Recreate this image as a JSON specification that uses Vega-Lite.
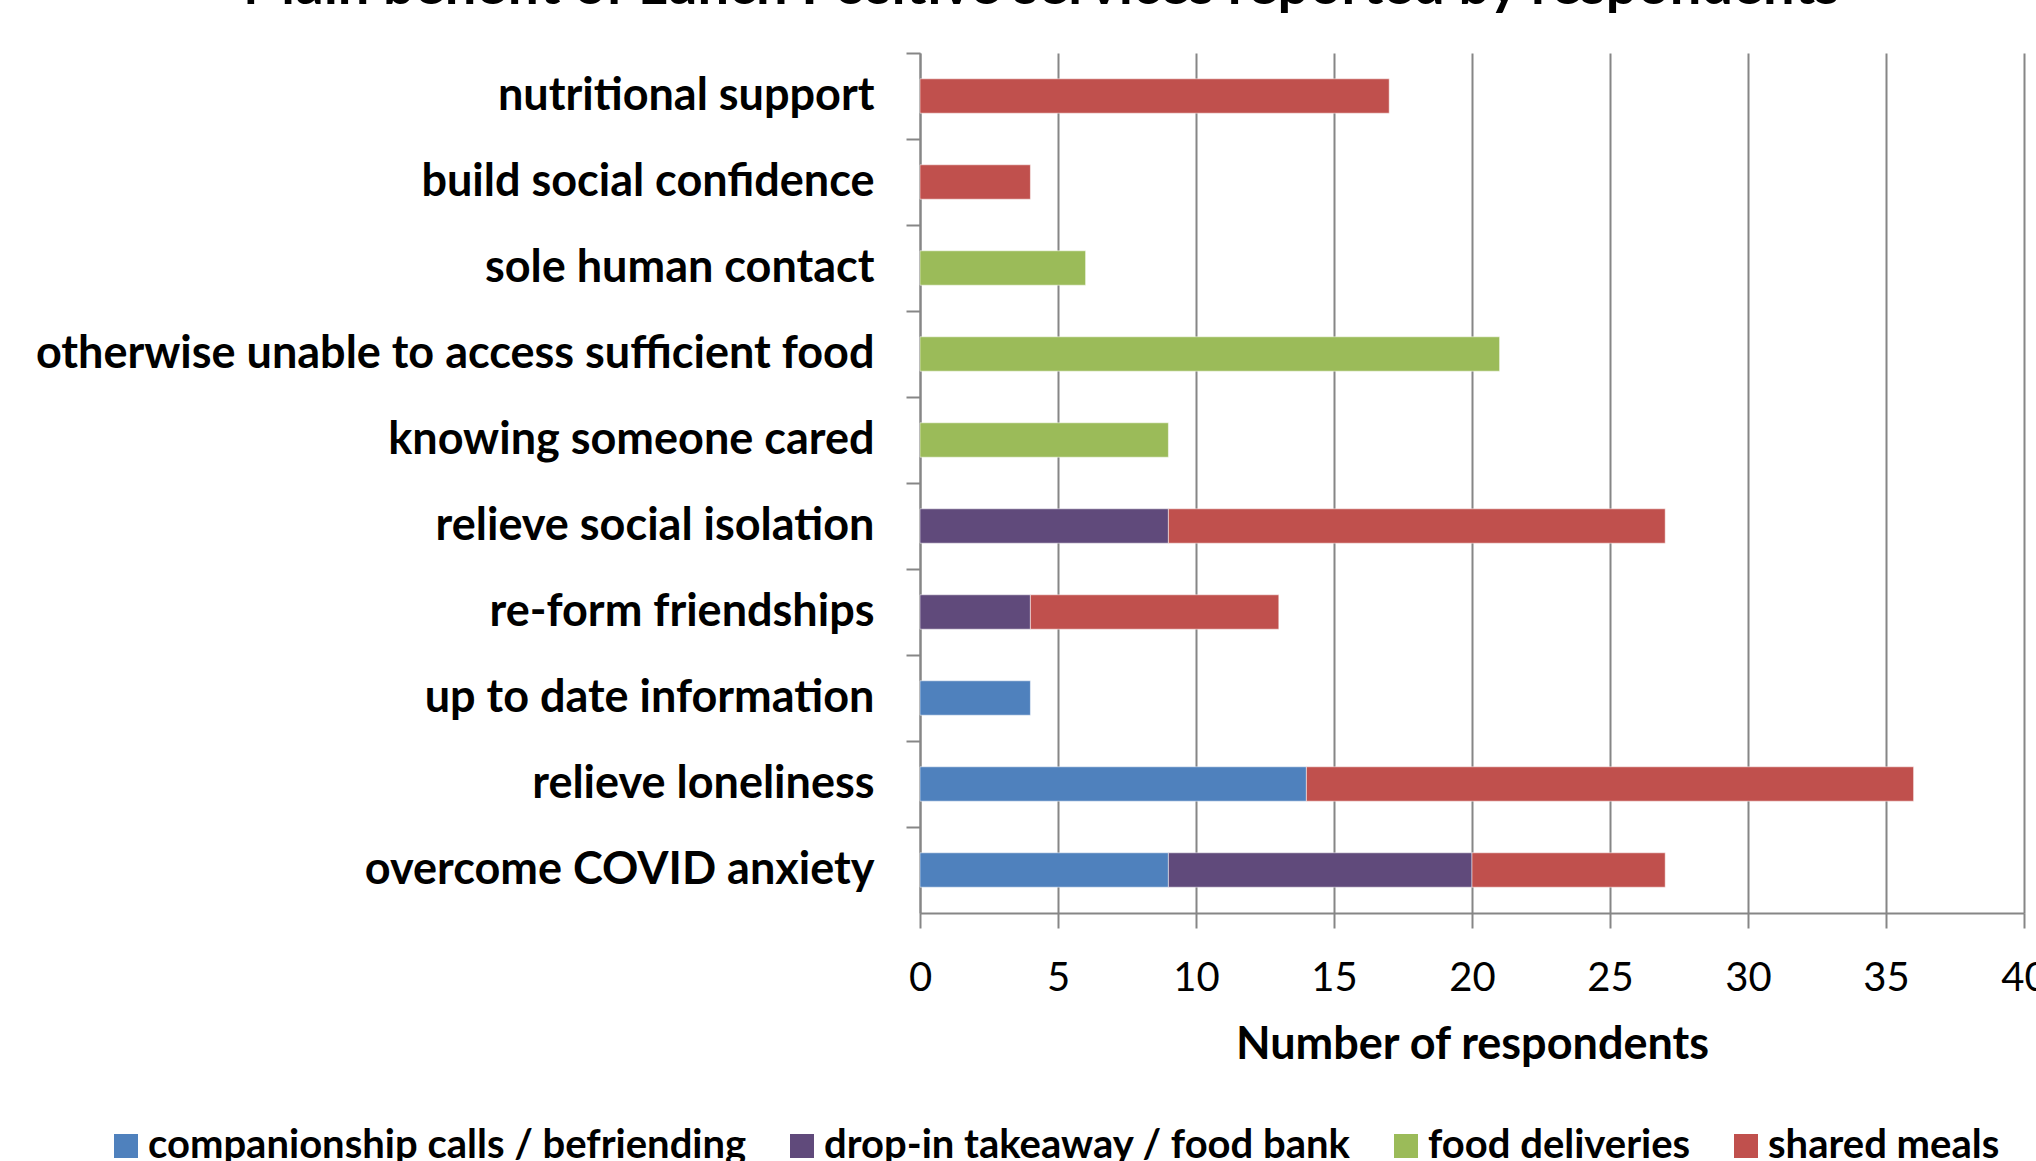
{
  "$schema": "https://vega.github.io/schema/vega-lite/v6.json",
  "autosize": {"type": "none"},
  "width": 1104,
  "height": 860,
  "padding": {"left": 920, "top": 53, "right": 12, "bottom": 248},
  "background": "white",
  "config": {
    "view": {"stroke": null},
    "font": "Lato"
  },
  "title": {
    "text": "Main benefit of Lunch Positive services reported by respondents",
    "font": "Lato",
    "fontSize": 56,
    "fontWeight": "bold",
    "color": "black",
    "anchor": "middle",
    "frame": "bounds",
    "offset": 36
  },
  "data": {
    "values": [
      {"benefit": "nutritional support", "service": "shared meals", "count": 17},
      {"benefit": "build social confidence", "service": "shared meals", "count": 4},
      {"benefit": "sole human contact", "service": "food deliveries", "count": 6},
      {"benefit": "otherwise unable to access sufficient food", "service": "food deliveries", "count": 21},
      {"benefit": "knowing someone cared", "service": "food deliveries", "count": 9},
      {"benefit": "relieve social isolation", "service": "drop-in takeaway / food bank", "count": 9},
      {"benefit": "relieve social isolation", "service": "shared meals", "count": 18},
      {"benefit": "re-form friendships", "service": "drop-in takeaway / food bank", "count": 4},
      {"benefit": "re-form friendships", "service": "shared meals", "count": 9},
      {"benefit": "up to date information", "service": "companionship calls / befriending", "count": 4},
      {"benefit": "relieve loneliness", "service": "companionship calls / befriending", "count": 14},
      {"benefit": "relieve loneliness", "service": "shared meals", "count": 22},
      {"benefit": "overcome COVID anxiety", "service": "companionship calls / befriending", "count": 9},
      {"benefit": "overcome COVID anxiety", "service": "drop-in takeaway / food bank", "count": 11},
      {"benefit": "overcome COVID anxiety", "service": "shared meals", "count": 7}
    ]
  },
  "mark": {"type": "bar", "height": {"band": 0.4}, "stroke": "white", "strokeOpacity": 0.5, "strokeWidth": 1},
  "encoding": {
    "y": {
      "field": "benefit",
      "type": "nominal",
      "sort": ["nutritional support", "build social confidence", "sole human contact", "otherwise unable to access sufficient food", "knowing someone cared", "relieve social isolation", "re-form friendships", "up to date information", "relieve loneliness", "overcome COVID anxiety"],
      "scale": {"paddingInner": 0, "paddingOuter": 0},
      "axis": {
        "title": null,
        "bandPosition": 0,
        "tickSize": 14,
        "tickColor": "#868686",
        "tickWidth": 2,
        "domainColor": "#868686",
        "domainWidth": 2,
        "labelFontSize": 45,
        "labelFontWeight": "bold",
        "labelColor": "black",
        "labelPadding": 32,
        "labelLimit": 1200,
        "grid": false
      }
    },
    "x": {
      "field": "count",
      "type": "quantitative",
      "stack": "zero",
      "scale": {"domain": [0, 40]},
      "axis": {
        "title": "Number of respondents",
        "titleFontSize": 45,
        "titleFontWeight": "bold",
        "titleColor": "black",
        "titlePadding": 24,
        "values": [0, 5, 10, 15, 20, 25, 30, 35, 40],
        "tickSize": 15,
        "tickColor": "#868686",
        "tickWidth": 2,
        "domainColor": "#868686",
        "domainWidth": 2,
        "grid": true,
        "gridColor": "#868686",
        "gridWidth": 2,
        "labelFontSize": 40,
        "labelColor": "black",
        "labelPadding": 30,
        "labelFlush": false,
        "labelOverlap": false
      }
    },
    "color": {
      "field": "service",
      "type": "nominal",
      "scale": {
        "domain": ["companionship calls / befriending", "drop-in takeaway / food bank", "food deliveries", "shared meals"],
        "range": ["#4F81BD", "#604A7B", "#9BBB59", "#C0504D"]
      },
      "legend": {
        "title": null,
        "orient": "none",
        "direction": "horizontal",
        "legendX": -814,
        "legendY": 1073,
        "symbolType": "square",
        "symbolSize": 576,
        "symbolStrokeWidth": 0,
        "labelFontSize": 40,
        "labelFontWeight": "bold",
        "labelColor": "black",
        "labelOffset": 2,
        "labelLimit": 1000,
        "columnPadding": 35
      }
    }
  }
}
